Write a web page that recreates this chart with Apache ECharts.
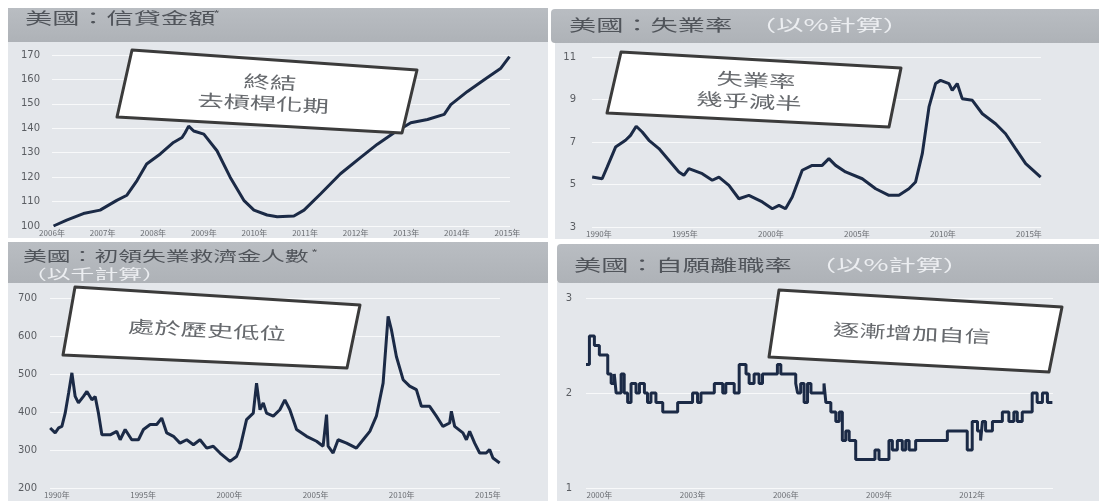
<!DOCTYPE html>
<html>
<head>
<meta charset="utf-8">
<script src="https://cdn.jsdelivr.net/npm/echarts@6/dist/echarts.min.js"></script>
<style>
html, body { margin: 0; padding: 0; background: #fff; }
#main { width: 1099px; height: 501px; }
</style>
</head>
<body>
<div id="main"></div>
<script>
// 美國：信貸金額
const creditYears = [2006.03, 2006.29, 2006.62, 2006.95, 2007.28, 2007.48, 2007.68, 2007.87, 2008.14, 2008.40, 2008.57, 2008.63, 2008.70, 2008.80, 2009.00, 2009.26, 2009.52, 2009.79, 2009.99, 2010.25, 2010.45, 2010.78, 2010.98, 2011.31, 2011.70, 2012.10, 2012.43, 2012.76, 2013.09, 2013.42, 2013.75, 2013.88, 2014.21, 2014.54, 2014.87, 2015.04];
const creditValues = [100, 102.4, 105.1, 106.5, 110.5, 112.6, 118.6, 125.4, 129.5, 134.2, 136.2, 138.2, 140.9, 138.9, 137.6, 130.8, 120.0, 110.5, 106.5, 104.5, 103.8, 104.1, 106.5, 113.2, 121.4, 128.1, 133.5, 138.2, 142.3, 143.6, 145.7, 149.7, 155.1, 159.9, 164.6, 169.3];
const creditTicks = [2006, 2007, 2008, 2009, 2010, 2011, 2012, 2013, 2014, 2015];

// 美國：失業率（%）
const unempYears = [1989.61, 1990.19, 1990.48, 1990.97, 1991.55, 1991.84, 1992.17, 1992.52, 1992.91, 1993.49, 1994.07, 1994.65, 1994.94, 1995.23, 1996.01, 1996.59, 1996.98, 1997.56, 1998.14, 1998.72, 1999.50, 2000.08, 2000.47, 2000.85, 2001.24, 2001.82, 2002.40, 2002.98, 2003.37, 2003.76, 2004.34, 2005.31, 2006.09, 2006.86, 2007.44, 2008.02, 2008.41, 2008.80, 2009.19, 2009.57, 2009.86, 2010.35, 2010.54, 2010.83, 2011.12, 2011.71, 2012.29, 2013.06, 2013.64, 2014.22, 2014.81, 2015.68];
const unempValues = [5.35, 5.27, 5.82, 6.76, 7.08, 7.31, 7.74, 7.47, 7.08, 6.69, 6.14, 5.59, 5.43, 5.75, 5.51, 5.20, 5.35, 4.96, 4.33, 4.49, 4.18, 3.86, 4.02, 3.86, 4.41, 5.67, 5.90, 5.90, 6.22, 5.90, 5.59, 5.27, 4.80, 4.49, 4.49, 4.80, 5.12, 6.45, 8.65, 9.75, 9.90, 9.75, 9.43, 9.75, 9.04, 8.96, 8.33, 7.86, 7.39, 6.69, 5.98, 5.35];
const unempTicks = [1990, 1995, 2000, 2005, 2010, 2015];

// 美國：初領失業救濟金人數（千）
const claimsYears = [1989.61, 1989.90, 1990.10, 1990.29, 1990.48, 1990.68, 1990.87, 1991.06, 1991.25, 1991.54, 1991.74, 1992.03, 1992.22, 1992.41, 1992.61, 1993.09, 1993.47, 1993.67, 1993.96, 1994.34, 1994.73, 1995.02, 1995.41, 1995.79, 1996.08, 1996.37, 1996.76, 1997.14, 1997.53, 1997.92, 1998.30, 1998.69, 1999.07, 1999.46, 2000.04, 2000.42, 2000.62, 2001.00, 2001.39, 2001.58, 2001.78, 2001.97, 2002.16, 2002.55, 2002.93, 2003.22, 2003.51, 2003.90, 2004.48, 2005.06, 2005.44, 2005.64, 2005.73, 2006.02, 2006.31, 2006.80, 2007.37, 2007.76, 2008.15, 2008.53, 2008.92, 2009.21, 2009.40, 2009.69, 2010.08, 2010.46, 2010.85, 2011.14, 2011.62, 2012.01, 2012.39, 2012.78, 2012.88, 2013.07, 2013.55, 2013.75, 2013.94, 2014.23, 2014.52, 2014.90, 2015.10, 2015.29, 2015.68];
const claimsValues = [358, 345, 358, 362, 397, 450, 503, 441, 424, 441, 454, 432, 441, 397, 340, 340, 349, 327, 354, 327, 327, 354, 367, 367, 384, 345, 336, 318, 327, 314, 327, 305, 310, 292, 270, 283, 305, 380, 397, 476, 406, 424, 397, 389, 406, 432, 406, 354, 336, 323, 310, 393, 310, 292, 327, 318, 305, 327, 349, 389, 476, 652, 617, 546, 485, 468, 459, 415, 415, 389, 362, 371, 402, 362, 345, 327, 349, 318, 292, 292, 301, 279, 266];
const claimsTicks = [1990, 1995, 2000, 2005, 2010, 2015];

// 美國：自願離職率（%）
const quitsYears = [1999.57, 1999.68, 1999.84, 2000.00, 2000.27, 2000.38, 2000.48, 2000.54, 2000.70, 2000.80, 2000.91, 2001.02, 2001.18, 2001.29, 2001.45, 2001.55, 2001.66, 2001.82, 2002.04, 2002.52, 2003.00, 2003.16, 2003.27, 2003.70, 2003.97, 2004.07, 2004.34, 2004.50, 2004.72, 2004.82, 2004.98, 2005.14, 2005.25, 2005.73, 2005.84, 2006.32, 2006.38, 2006.48, 2006.59, 2006.70, 2006.81, 2007.23, 2007.29, 2007.45, 2007.61, 2007.72, 2007.82, 2007.93, 2008.04, 2008.25, 2008.87, 2009.00, 2009.32, 2009.43, 2009.59, 2009.75, 2009.86, 2009.97, 2010.18, 2011.20, 2011.84, 2012.00, 2012.17, 2012.27, 2012.33, 2012.43, 2012.65, 2012.97, 2013.18, 2013.34, 2013.45, 2013.61, 2013.93, 2014.09, 2014.26, 2014.42, 2014.58];
const quitsValues = [2.3, 2.6, 2.5, 2.4, 2.2, 2.1, 2.2, 2.0, 2.2, 2.0, 1.9, 2.1, 2.0, 2.1, 2.0, 1.9, 2.0, 1.9, 1.8, 1.9, 2.0, 1.9, 2.0, 2.1, 2.0, 2.1, 2.0, 2.3, 2.2, 2.1, 2.2, 2.1, 2.2, 2.3, 2.2, 2.1, 2.0, 2.1, 1.9, 2.1, 2.0, 2.1, 1.9, 1.8, 1.7, 1.8, 1.5, 1.6, 1.5, 1.3, 1.4, 1.3, 1.5, 1.4, 1.5, 1.4, 1.5, 1.4, 1.5, 1.6, 1.4, 1.7, 1.6, 1.5, 1.7, 1.6, 1.7, 1.8, 1.7, 1.8, 1.7, 1.8, 2.0, 1.9, 2.0, 1.9, 1.9];
const quitsTicks = [2000, 2003, 2006, 2009, 2012];

const zip = (xs, ys) => xs.map((x, i) => [x, ys[i]]);

const lineColor = '#1b2a46';
const panelBg = '#e4e7eb';
const barColor = new echarts.graphic.LinearGradient(0, 0, 0, 1, [
    {offset: 0, color: '#b9bdc2'}, {offset: 1, color: '#aeb2b7'}
]);
const cjk = '"Noto Sans CJK TC"';

function xAxisOf(idx, min, max, ticks) {
    return {
        type: 'value', gridIndex: idx, min: min, max: max,
        axisLine: {show: false}, axisTick: {show: false}, splitLine: {show: false},
        axisLabel: {
            customValues: ticks, margin: 3, fontSize: 8, color: '#6a6d72',
            fontFamily: cjk, formatter: v => v + '年'
        }
    };
}
function yAxisOf(idx, min, max, interval, margin) {
    return {
        type: 'value', gridIndex: idx, min: min, max: max, interval: interval,
        axisLine: {show: false}, axisTick: {show: false},
        splitLine: {lineStyle: {color: 'rgba(255,255,255,0.75)', width: 1}},
        axisLabel: {margin: margin, fontSize: 10, color: '#5a5d62', fontFamily: 'DejaVu Sans'}
    };
}
function lineOf(idx, data, step) {
    return {
        type: 'line', xAxisIndex: idx, yAxisIndex: idx, data: data,
        showSymbol: false, step: step || false, z: 3,
        lineStyle: {color: lineColor, width: 3}
    };
}
//標題文字，橫向拉寬；color 可指定淺色副標題
function titleText(x, y, text, size, color) {
    return {
        type: 'text', x: x, y: y, scaleX: 1.7, z: 50,
        style: {
            text: text, fontSize: size, fontFamily: cjk,
            fill: color || '#50545a', verticalAlign: 'middle', align: 'left'
        }
    };
}
function callout(points, lines) {
    const els = [{
        type: 'polygon', z: 100,
        shape: {points: points},
        style: {fill: '#ffffff', stroke: '#3b3b3b', lineWidth: 3, lineJoin: 'round'}
    }];
    lines.forEach(l => els.push({
        type: 'text', x: l[0], y: l[1], scaleX: 1.55, rotation: -0.05, z: 101,
        style: {text: l[2], fontSize: 17, fontFamily: cjk, fill: '#66696d',
            align: 'center', verticalAlign: 'middle'}
    }));
    return els;
}

const light = '#eceef1';
const graphics = [
    // 面板底色
    {type: 'rect', z: -10, shape: {x: 8, y: 40, width: 540, height: 198}, style: {fill: panelBg}},
    {type: 'rect', z: -10, shape: {x: 555, y: 42, width: 544, height: 197}, style: {fill: panelBg}},
    {type: 'rect', z: -10, shape: {x: 8, y: 282, width: 540, height: 219}, style: {fill: panelBg}},
    {type: 'rect', z: -10, shape: {x: 557, y: 282, width: 542, height: 219}, style: {fill: panelBg}},
    // 標題欄
    {type: 'rect', z: -5, shape: {x: 8, y: 8, width: 540, height: 34}, style: {fill: barColor}},
    {type: 'rect', z: -5, shape: {x: 551, y: 9, width: 548, height: 34, r: [4, 0, 0, 4]}, style: {fill: barColor}},
    {type: 'rect', z: -5, shape: {x: 8, y: 242, width: 540, height: 41}, style: {fill: barColor}},
    {type: 'rect', z: -5, shape: {x: 557, y: 244, width: 542, height: 39, r: [4, 0, 0, 4]}, style: {fill: barColor}},
    titleText(25, 18, '美國：信貸金額', 16),
    titleText(213, 14, '*', 9, '#5a5d62'),
    titleText(569, 25, '美國：失業率', 16),
    titleText(749, 25, '（以%計算）', 16, light),
    titleText(23, 256, '美國：初領失業救濟金人數', 14),
    titleText(311, 253, '*', 9, '#5a5d62'),
    titleText(23, 274, '（以千計算）', 14, light),
    titleText(574, 265, '美國：自願離職率', 16),
    titleText(809, 265, '（以%計算）', 16, light)
].concat(
    callout([[132, 50], [417, 70], [402, 133], [117, 117]], [[270, 82, '終結'], [263, 103, '去槓桿化期']]),
    callout([[621, 52], [901, 68], [889, 127], [607, 113]], [[756, 80, '失業率'], [749, 101, '幾乎減半']]),
    callout([[75, 287], [360, 305], [347, 368], [63, 355]], [[207, 330, '處於歷史低位']]),
    callout([[779, 290], [1062, 307], [1049, 372], [769, 357]], [[912, 333, '逐漸增加自信']])
);

const chart = echarts.init(document.getElementById('main'), null, {renderer: 'canvas'});
chart.setOption({
    animation: false,
    backgroundColor: '#ffffff',
    grid: [
        {left: 52, top: 55, width: 458, height: 171},
        {left: 592, top: 57, width: 449, height: 170},
        {left: 50, top: 298, width: 450, height: 190},
        {left: 586, top: 298, width: 467, height: 190}
    ],
    xAxis: [
        xAxisOf(0, 2006, 2015.05, creditTicks),
        xAxisOf(1, 1989.6, 2015.7, unempTicks),
        xAxisOf(2, 1989.6, 2015.7, claimsTicks),
        xAxisOf(3, 1999.57, 2014.6, quitsTicks)
    ],
    yAxis: [
        yAxisOf(0, 100, 170, 10, 12),
        yAxisOf(1, 3, 11, 2, 16),
        yAxisOf(2, 200, 700, 100, 13),
        yAxisOf(3, 1, 3, 1, 14)
    ],
    series: [
        lineOf(0, zip(creditYears, creditValues)),
        lineOf(1, zip(unempYears, unempValues)),
        lineOf(2, zip(claimsYears, claimsValues)),
        lineOf(3, zip(quitsYears, quitsValues), 'end')
    ],
    graphic: graphics
});
</script>
</body>
</html>
